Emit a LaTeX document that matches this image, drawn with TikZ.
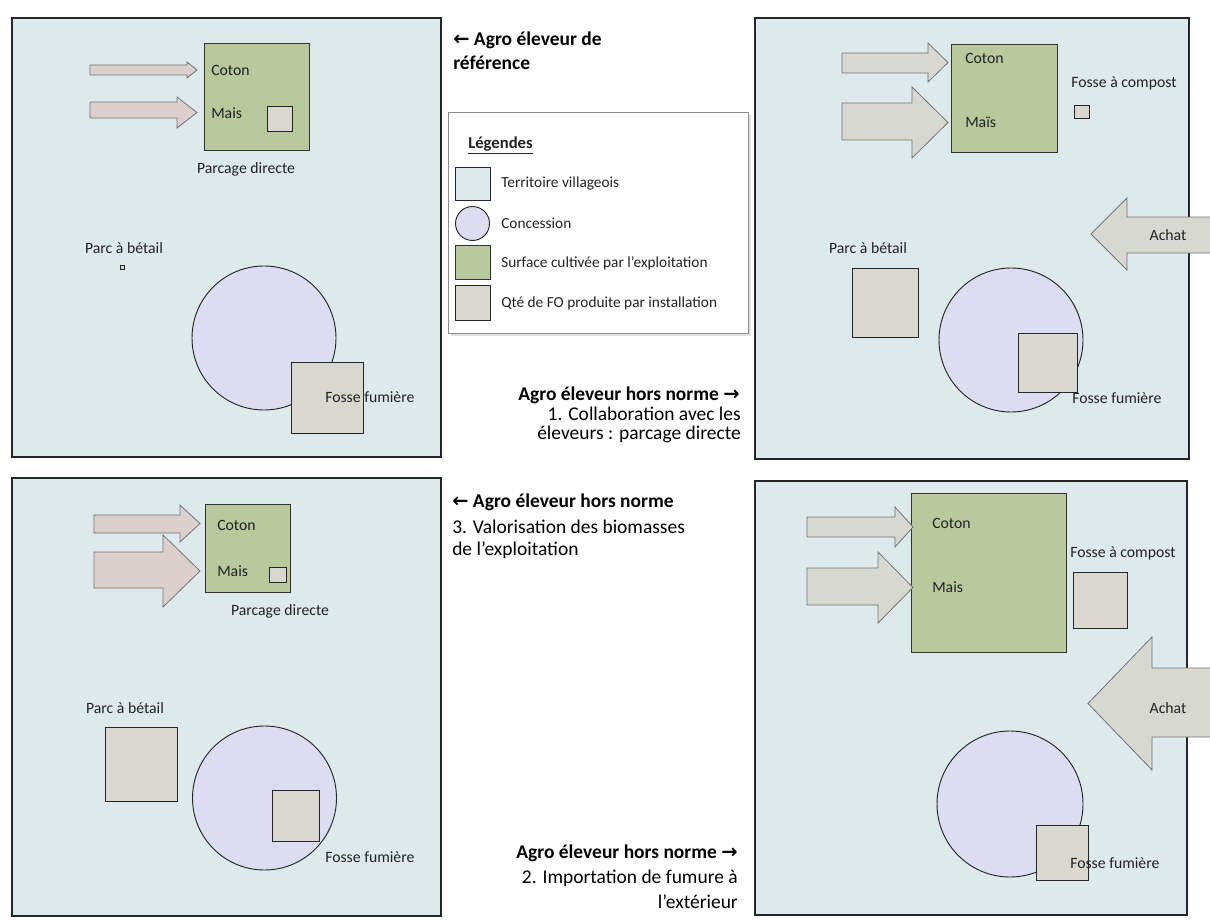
\documentclass[tikz,border=0pt]{standalone}
\usepackage{fontspec}
\setmainfont{Carlito}
\newfontfamily\arrowfont{DejaVu Sans}

\definecolor{terr}{HTML}{DDE9EB}
\definecolor{champ}{HTML}{B8C99E}
\definecolor{conc}{HTML}{DCDDF0}
\definecolor{fo}{HTML}{D8D8D1}
\definecolor{fluxrose}{HTML}{DCD0CF}
\definecolor{fluxgris}{HTML}{D7D8D2}
\definecolor{ink}{HTML}{222222}

% right-pointing block arrow: style, tail x, shaft top, shaft bottom, head x, head top, head bottom, tip x
\newcommand\flecheD[8]{%
  \draw[#1] (#2,#3) -- (#5,#3) -- (#5,#6) -- (#8,{(#6+#7)/2}) -- (#5,#7) -- (#5,#4) -- (#2,#4) -- cycle;}
% left-pointing block arrow: style, tip x, head x, head top, head bottom, shaft top, shaft bottom, tail x
\newcommand\flecheG[8]{%
  \draw[#1] (#2,{(#4+#5)/2}) -- (#3,#4) -- (#3,#6) -- (#8,#6) -- (#8,#7) -- (#3,#7) -- (#3,#5) -- cycle;}

\tikzset{
  panel/.style={draw=black!85, line width=1pt, fill=terr},
  champbox/.style={draw=black!80, line width=0.7pt, fill=champ},
  fobox/.style={draw=black!85, line width=0.7pt, fill=fo},
  concbox/.style={draw=black!85, line width=0.7pt, fill=conc},
  flux/.style={draw=black!55, line width=0.6pt, fill=fluxgris},
  fluxr/.style={draw=black!55, line width=0.6pt, fill=fluxrose},
  lab/.style={font=\fontsize{11.8}{14}\selectfont, text=ink, inner sep=0pt},
  leg/.style={font=\fontsize{11.5}{13}\selectfont, text=ink, inner sep=0pt},
  note/.style={font=\fontsize{14.6}{17}\selectfont, text=black, inner sep=0pt},
  notebf/.style={note, font=\fontsize{14.6}{17}\selectfont\bfseries},
}
\newcommand\gauche{{\arrowfont\bfseries ←}}
\newcommand\droite{{\arrowfont\bfseries →}}

\begin{document}
\begin{tikzpicture}[x=0.75pt, y=-0.75pt]
\useasboundingbox (0,0) rectangle (1210,920);
\clip (0,0) rectangle (1210,920);
\fill[white] (0,0) rectangle (1210,920);

% ---------- panel 1 : reference farmer ----------
\draw[panel] (12,18) rectangle (441,457);
\draw[champbox] (204,43) rectangle (309,150);
\draw[fobox] (267,106) rectangle (292,131);
\flecheD{fluxr}{90}{65}{75}{187}{62}{78}{197}
\flecheD{fluxr}{90}{102}{118}{177}{97}{128}{197}
\node[lab, anchor=west] (p1coton) at (211,70) {Coton};
\node[lab, anchor=west] (p1mais) at (211,113) {Mais};
\node[lab] (p1parcage) at (246,169) {Parcage directe};
\node[lab] (p1parc) at (124,248) {Parc à bétail};
\draw[fobox, line width=0.5pt] (120,265) rectangle (124,269);
\draw[concbox] (264,338) circle[radius=72];
\draw[fobox] (291,362) rectangle (363,433);
\node[lab, anchor=west] (p1fosse) at (325,397) {Fosse fumière};

% ---------- panel 2 : collaboration with herders ----------
\draw[panel] (755,18) rectangle (1189,459);
\draw[champbox] (951,44) rectangle (1057,152);
\flecheD{flux}{842}{53}{73}{928}{43}{82}{948}
\flecheD{flux}{842}{103}{140}{912}{87}{158}{948}
\node[lab, anchor=west] (p2coton) at (965,58) {Coton};
\node[lab, anchor=west] (p2mais) at (965,122) {Maïs};
\node[lab, anchor=west] (p2compost) at (1071,83) {Fosse à compost};
\draw[fobox] (1074,105) rectangle (1089,118);
\node[lab] (p2parc) at (868,248) {Parc à bétail};
\draw[fobox] (852,268) rectangle (918,337);
\draw[concbox] (1011,340) circle[radius=72];
\draw[fobox] (1018,333) rectangle (1077,392);
\node[lab, anchor=west] (p2fosse) at (1072,398) {Fosse fumière};
\flecheG{flux}{1091}{1127}{198}{270}{217}{253}{1215}
\node[lab] (p2achat) at (1168,235) {Achat};

% ---------- panel 3 : on-farm biomass ----------
\draw[panel] (12,478) rectangle (441,916);
\draw[champbox] (205,504) rectangle (290,592);
\draw[fobox] (269,567) rectangle (286,582);
\flecheD{fluxr}{94}{515}{533}{180}{505}{542}{200}
\flecheD{fluxr}{94}{552}{588}{163}{535}{607}{200}
\node[lab, anchor=west] (p3coton) at (217,525) {Coton};
\node[lab, anchor=west] (p3mais) at (217,571) {Mais};
\node[lab] (p3parcage) at (280,611) {Parcage directe};
\node[lab] (p3parc) at (125,708) {Parc à bétail};
\draw[fobox] (105,727) rectangle (177,801);
\draw[concbox] (264.5,798) circle[radius=72];
\draw[fobox] (272,790) rectangle (319,841);
\node[lab, anchor=west] (p3fosse) at (325,857) {Fosse fumière};

% ---------- panel 4 : imported manure ----------
\draw[panel] (755,481) rectangle (1187,915);
\draw[champbox] (911,493) rectangle (1066,652);
\flecheD{flux}{807}{517}{537}{895}{507}{547}{913}
\flecheD{flux}{807}{568}{605}{878}{552}{623}{913}
\node[lab, anchor=west] (p4coton) at (932,523) {Coton};
\node[lab, anchor=west] (p4mais) at (932,587) {Mais};
\node[lab, anchor=west] (p4compost) at (1070,553) {Fosse à compost};
\draw[fobox] (1073,572) rectangle (1127,628);
\flecheG{flux}{1088}{1152}{637}{770}{668}{737}{1215}
\node[lab] (p4achat) at (1168,708) {Achat};
\draw[concbox] (1010,804) circle[radius=73];
\draw[fobox] (1036,825) rectangle (1088,880);
\node[lab, anchor=west] (p4fosse) at (1070,863) {Fosse fumière};

% ---------- legend ----------
\fill[black!12] (451,115) rectangle (751,336);
\draw[draw=black!45, line width=0.6pt, fill=white] (448,112) rectangle (748,333);
\node[leg, anchor=west, font=\fontsize{12.5}{14}\selectfont\bfseries] (legtitre) at (468,145) {\underline{Légendes}};
\draw[panel, line width=0.7pt] (455,167) rectangle (490,200);
\node[leg, anchor=west] (legterr) at (501,183) {Territoire villageois};
\draw[concbox] (472.5,223.5) circle[radius=17];
\node[leg, anchor=west] (legconc) at (501,223) {Concession};
\draw[champbox] (455,245) rectangle (490,279);
\node[leg, anchor=west] (legchamp) at (501,263) {Surface cultivée par l’exploitation};
\draw[fobox] (455,285) rectangle (490,320);
\node[leg, anchor=west] (legfo) at (501,303) {Qté de FO produite par installation};

% ---------- side notes ----------
\node[notebf, anchor=west] (n1a) at (453,40) {\gauche\ Agro éleveur de};
\node[notebf, anchor=west] (n1b) at (453,63) {référence};

\node[notebf, anchor=east] (n2a) at (740,395) {Agro éleveur hors norme \droite};
\node[note, anchor=east] (n2b) at (741,414) {1. Collaboration avec les};
\node[note, anchor=east] (n2c) at (741,434) {éleveurs : parcage directe};

\node[notebf, anchor=west] (n3a) at (452,502) {\gauche\ Agro éleveur hors norme};
\node[note, anchor=west] (n3b) at (452,527) {3. Valorisation des biomasses};
\node[note, anchor=west] (n3c) at (452,550) {de l’exploitation};

\node[notebf, anchor=east] (n4a) at (738,853) {Agro éleveur hors norme \droite};
\node[note, anchor=east] (n4b) at (738,878) {2. Importation de fumure à};
\node[note, anchor=east] (n4c) at (738,902) {l’extérieur};
\end{tikzpicture}
\end{document}
